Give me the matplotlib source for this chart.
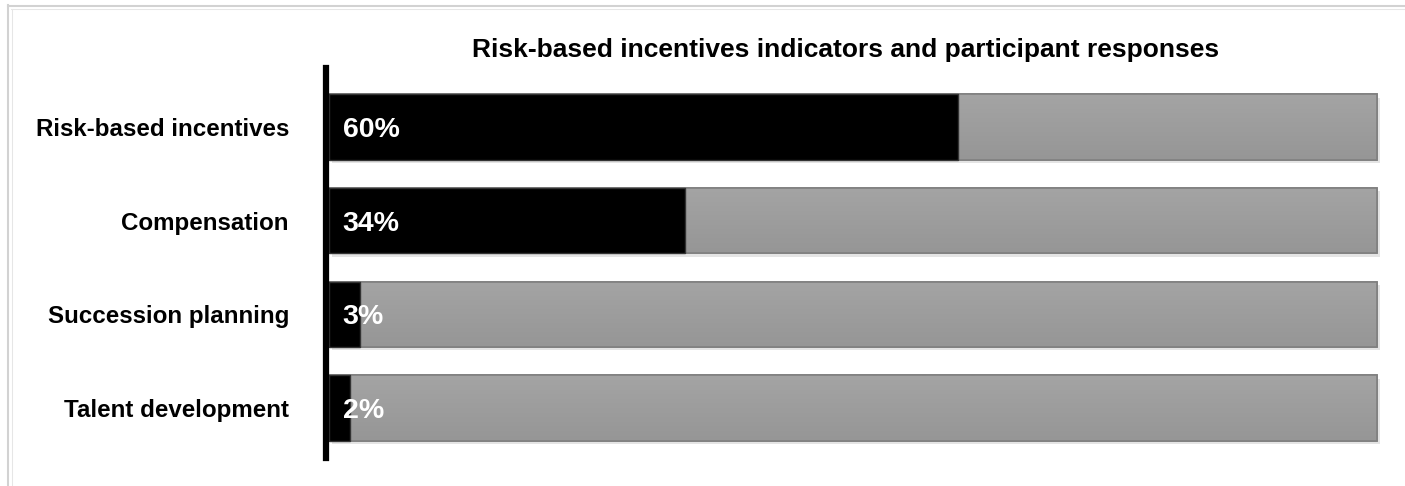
import numpy as np
import matplotlib
matplotlib.use("Agg")
import matplotlib.pyplot as plt
from matplotlib import patheffects as pe
from matplotlib import transforms
from matplotlib.lines import Line2D
from matplotlib.colors import LinearSegmentedColormap

plt.rcParams['font.family'] = ['Liberation Sans', 'DejaVu Sans']

# Data
categories = ["Risk-based incentives", "Compensation", "Succession planning", "Talent development"]
shares = [60, 34, 3, 2]
total = 100
title = "Risk-based incentives indicators and participant responses"

W, H = 1405, 486
fig = plt.figure(figsize=(W / 100, H / 100), dpi=100)

# Light double frame around the chart area
fig.add_artist(Line2D([7.5 / W, 1], [1 - 6 / H] * 2, transform=fig.transFigure, color='#d2d2d2', lw=1.5))
fig.add_artist(Line2D([11 / W, 1], [1 - 9.5 / H] * 2, transform=fig.transFigure, color='#e6e6e6', lw=0.75))
fig.add_artist(Line2D([8 / W] * 2, [0, 1 - 5 / H], transform=fig.transFigure, color='#d2d2d2', lw=1.5))
fig.add_artist(Line2D([11.5 / W] * 2, [0, 1 - 9 / H], transform=fig.transFigure, color='#e6e6e6', lw=0.75))

left_px, right_px, top_px, bot_px = 329, 1377, 68, 458
ax = fig.add_axes([left_px / W, 1 - bot_px / H, (right_px - left_px) / W, (bot_px - top_px) / H])

y = np.arange(len(categories))
bar_h = 0.7
shadow = [pe.SimplePatchShadow(offset=(2.4, -2.4), shadow_rgbFace='#e4e4e4', alpha=1.0), pe.Normal()]

# Gray remainder bars drawn full width with a vertical gradient
full = ax.barh(y, [total] * len(y), height=bar_h, left=0, color='#9c9c9c',
               edgecolor='#7f7f7f', linewidth=1.2, zorder=2)
for r in full:
    r.set_path_effects(shadow)
    r.set_clip_on(False)
grad = np.linspace(0, 1, 64).reshape(-1, 1)
gcmap = LinearSegmentedColormap.from_list('g', ['#a4a4a4', '#969696'])
for yi, r in zip(y, full):
    im = ax.imshow(grad, cmap=gcmap, aspect='auto', zorder=2.5,
                   extent=(0, total, yi + bar_h / 2, yi - bar_h / 2), interpolation='bilinear')
    im.set_clip_path(r)
outline = ax.barh(y, [total] * len(y), height=bar_h, left=0, color='none',
                  edgecolor='#808080', linewidth=1.2, zorder=2.6)
for r in outline:
    r.set_clip_on(False)

# Black share bars
black = ax.barh(y, shares, height=bar_h, left=0, color='black',
                edgecolor='#333333', linewidth=1.0, zorder=3)

for yi, v in zip(y, shares):
    ax.text(1.3, yi, f"{v}%", color='white', fontsize=20.5, fontweight='bold',
            va='center_baseline', ha='left', zorder=4)

ax.set_xlim(0, total)
ax.set_ylim(3 + (bot_px - 408) / 93.67, -(127 - top_px) / 93.67)
ax.set_xticks([])
ax.set_yticks([])

# Category labels, right-aligned left of the axis line
lab_tr = transforms.blended_transform_factory(ax.transAxes, ax.transData)
for yi, cat in zip(y, categories):
    ax.text((289 - left_px) / (right_px - left_px), yi, cat, transform=lab_tr,
            ha='right', va='center_baseline', fontsize=17.4, fontweight='bold')

for s in ['top', 'right', 'bottom']:
    ax.spines[s].set_visible(False)
ax.spines['left'].set_linewidth(4.5)
ax.spines['left'].set_position(('outward', 2.5))
ax.spines['left'].set_zorder(5)
ax.patch.set_alpha(0)

fig.text(846 / W, 1 - 57.5 / H, title, ha='center', va='baseline',
         fontsize=19, fontweight='bold')

fig.savefig("out.png", dpi=100, facecolor='white')
